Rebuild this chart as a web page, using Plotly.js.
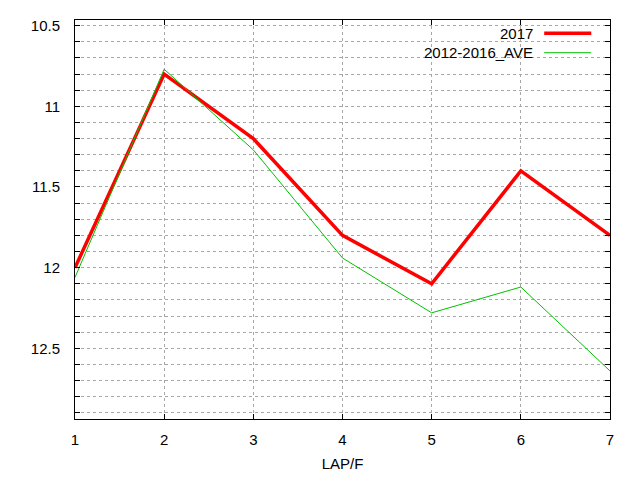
<!DOCTYPE html>
<html>
<head>
<meta charset="utf-8">
<script src="https://cdn.plot.ly/plotly-3.0.1.min.js"></script>
<style>
  html, body { margin: 0; padding: 0; background: white; }
  #chart { width: 640px; height: 480px; }
</style>
</head>
<body>
<div id="chart"></div>
<script>
// laps on the x axis
const laps = [1, 2, 3, 4, 5, 6, 7];

// lap times per series
const series2017 = [12.0, 10.8, 11.2, 11.8, 12.1, 11.4, 11.8];
const seriesAve = [12.06, 10.77, 11.27, 11.94, 12.28, 12.12, 12.64];

const seriesNames = ['2017', '2012-2016_AVE'];
const seriesColors = ['#ff0000', '#00c000'];
const seriesWidths = [3.5, 1];

const yTickVals = [10.5, 11, 11.5, 12, 12.5];
const yTickText = ['10.5', '11', '11.5', '12', '12.5'];

const font = { family: 'Liberation Sans, Arial, sans-serif', size: 15, color: '#000' };
const gridColor = '#a8a8a8';

const traces = [series2017, seriesAve].map((ys, i) => ({
  x: laps,
  y: ys,
  type: 'scatter',
  mode: 'lines',
  name: seriesNames[i],
  line: { color: seriesColors[i], width: seriesWidths[i] },
  showlegend: false,
  hoverinfo: 'skip'
}));

// home-made legend: text right-aligned, sample line to its right (gnuplot style)
const legendY = [0.967, 0.918];
const annotations = seriesNames.map((name, i) => ({
  xref: 'paper', yref: 'paper',
  x: 0.859, y: legendY[i],
  xanchor: 'right', yanchor: 'middle',
  text: name, showarrow: false, font
}));
const shapes = seriesNames.map((name, i) => ({
  type: 'line', xref: 'paper', yref: 'paper',
  x0: 0.877, x1: 0.965, y0: legendY[i], y1: legendY[i],
  line: { color: seriesColors[i], width: seriesWidths[i] }
}));

const layout = {
  width: 640,
  height: 480,
  margin: { l: 75, r: 30, t: 20, b: 61 },
  paper_bgcolor: 'white',
  plot_bgcolor: 'white',
  font,
  showlegend: false,
  xaxis: {
    range: [1, 7],
    tickmode: 'array',
    tickvals: laps,
    ticks: 'inside',
    ticklen: 5,
    tickcolor: '#000',
    showline: true,
    linecolor: '#000',
    linewidth: 1,
    mirror: 'allticks',
    showgrid: true,
    gridcolor: gridColor,
    griddash: '3px,3px',
    zeroline: false,
    ticklabelstandoff: 7,
    title: { text: 'LAP/F', font, standoff: 11 }
  },
  yaxis: {
    range: [12.938, 10.465],
    tickmode: 'array',
    tickvals: yTickVals,
    ticktext: yTickText,
    ticks: 'inside',
    ticklen: 5,
    tickcolor: '#000',
    showline: true,
    linecolor: '#000',
    linewidth: 1,
    mirror: 'allticks',
    showgrid: true,
    gridcolor: gridColor,
    griddash: '3px,3px',
    zeroline: false,
    ticklabelstandoff: 11,
    minor: {
      dtick: 0.1,
      tick0: 10.5,
      ticks: 'inside',
      ticklen: 5,
      tickcolor: '#000',
      showgrid: true,
      gridcolor: gridColor,
      griddash: '3px,3px'
    }
  },
  annotations,
  shapes
};

Plotly.newPlot('chart', traces, layout, { staticPlot: true });
</script>
</body>
</html>
